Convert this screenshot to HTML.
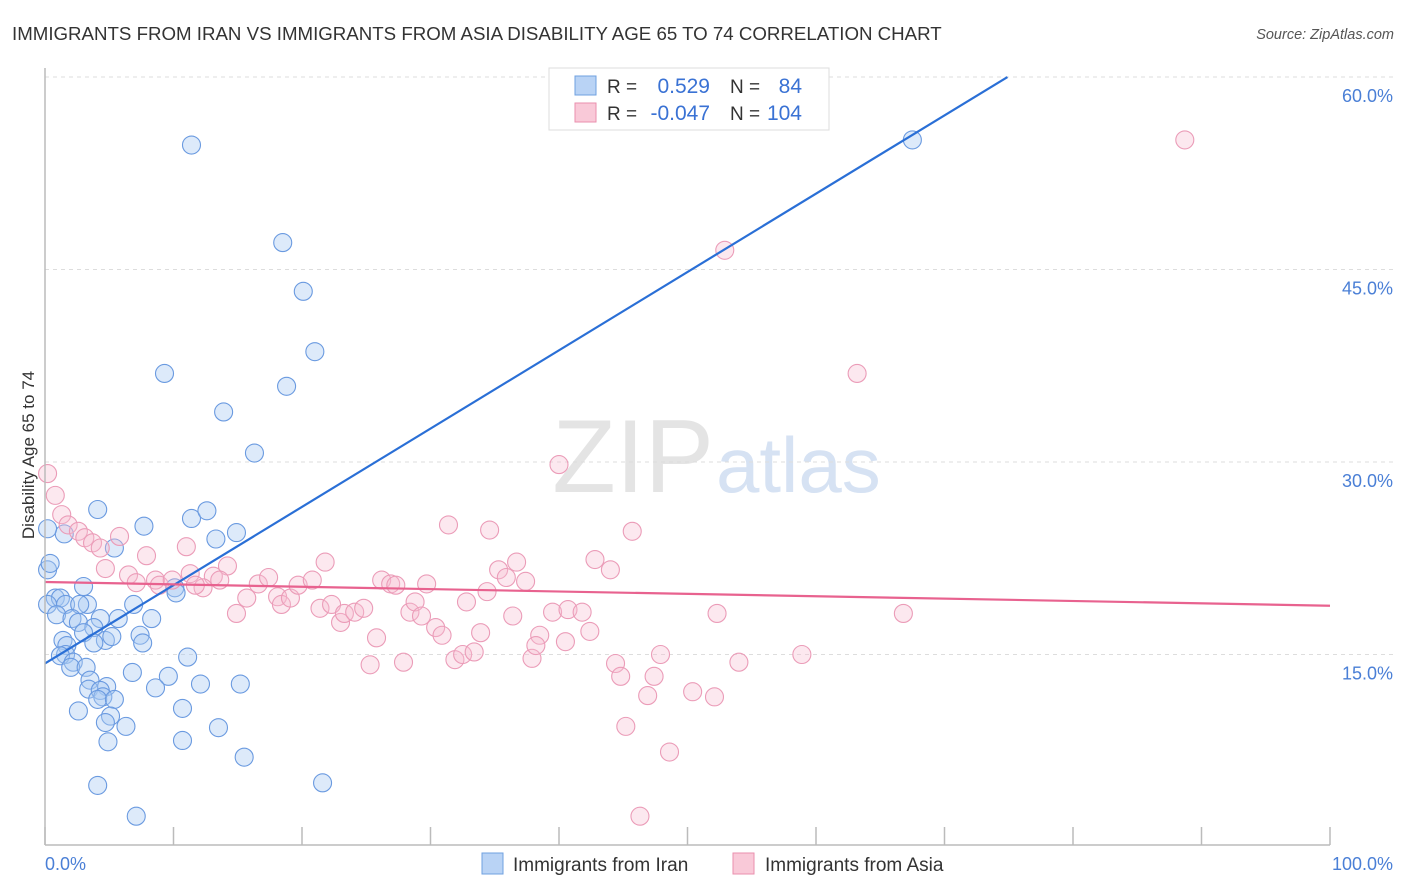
<!DOCTYPE html>
<html><head><meta charset="utf-8">
<style>
body{margin:0;background:#fff;font-family:"Liberation Sans",sans-serif;}
#wrap{position:relative;width:1406px;height:892px;overflow:hidden;}
svg text{font-family:"Liberation Sans",sans-serif;}
</style></head>
<body>
<div id="wrap">
<svg id="chart" width="1406" height="892">
<text x="12" y="40" font-size="18.7" fill="#333">IMMIGRANTS FROM IRAN VS IMMIGRANTS FROM ASIA DISABILITY AGE 65 TO 74 CORRELATION CHART</text>
<text x="1394" y="39" font-size="14.5" fill="#555" text-anchor="end" font-style="italic">Source: ZipAtlas.com</text>
<text x="34" y="455" font-size="17" fill="#333" text-anchor="middle" transform="rotate(-90 34 455)">Disability Age 65 to 74</text>
<text x="714" y="492" font-size="104" fill="#e4e4e4" text-anchor="end" font-family="Liberation Serif">ZIP</text>
<text x="716" y="492" font-size="78" fill="#d6e2f3">atlas</text>
<g id="grid"></g><g id="pts"></g><g id="lines"></g>
<line x1="45" y1="68" x2="45" y2="845" stroke="#bbb" stroke-width="1.5"/>
<line x1="45" y1="845" x2="1330" y2="845" stroke="#bbb" stroke-width="1.5"/>
<text x="45" y="870" font-size="18" fill="#4a7fd6">0.0%</text>
<text x="1393" y="870" font-size="18" fill="#4a7fd6" text-anchor="end">100.0%</text>
<g>
<rect x="549" y="68" width="280" height="62" fill="#fff" stroke="#ddd"/>
<rect x="575" y="76" width="21" height="19" fill="#b9d3f5" stroke="#6fa0e0"/>
<rect x="575" y="103" width="21" height="19" fill="#f9c9d8" stroke="#ea8fae"/>
<text x="607" y="93" font-size="19" fill="#333">R =</text><text x="710" y="93" font-size="21" fill="#3a72d4" text-anchor="end">0.529</text>
<text x="730" y="93" font-size="19" fill="#333">N =</text><text x="802" y="93" font-size="21" fill="#3a72d4" text-anchor="end">84</text>
<text x="607" y="120" font-size="19" fill="#333">R =</text><text x="710" y="120" font-size="21" fill="#3a72d4" text-anchor="end">-0.047</text>
<text x="730" y="120" font-size="19" fill="#333">N =</text><text x="802" y="120" font-size="21" fill="#3a72d4" text-anchor="end">104</text>
</g>
<g>
<rect x="482" y="853" width="21" height="21" fill="#b9d3f5" stroke="#6fa0e0"/>
<text x="513" y="871" font-size="19" fill="#333">Immigrants from Iran</text>
<rect x="733" y="853" width="21" height="21" fill="#f9c9d8" stroke="#ea8fae"/>
<text x="765" y="871" font-size="19" fill="#333">Immigrants from Asia</text>
</g>
</svg>
</div>
<script>
const yTicks=[15,30,45,60];
const yTickLabels=["15.0%","30.0%","45.0%","60.0%"];
const xTicks=[0,10,20,30,40,50,60,70,80,90,100];
const iranX=[11.4,18.5,20.1,21.0,9.3,18.8,13.9,16.3,67.5,4.1,7.7,11.4,12.6,14.9,13.3,5.4,1.5,0.2,0.2,0.4,3.0,10.1,10.2,0.8,1.2,0.2,1.6,3.3,2.7,6.9,0.9,2.1,4.3,2.6,5.7,8.3,3.8,3.0,4.7,5.2,7.4,7.6,1.4,1.7,3.8,1.6,1.2,2.2,2.0,3.2,11.1,6.8,9.6,3.5,4.8,3.4,4.3,12.1,15.2,8.6,4.5,4.1,5.4,2.6,10.7,5.1,4.7,6.3,13.5,4.9,10.7,15.5,4.1,21.6,7.1];
const iranY=[54.7,47.1,43.3,38.6,36.9,35.9,33.9,30.7,55.1,26.3,25.0,25.6,26.2,24.5,24.0,23.3,24.4,24.8,21.6,22.1,20.3,20.2,19.8,19.4,19.4,18.9,18.9,18.9,18.9,18.9,18.1,17.8,17.8,17.5,17.8,17.8,17.1,16.7,16.1,16.4,16.5,15.9,16.1,15.7,15.9,15.0,14.9,14.4,14.0,14.0,14.8,13.6,13.3,13.0,12.5,12.3,12.2,12.7,12.7,12.4,11.7,11.5,11.5,10.6,10.8,10.2,9.7,9.4,9.3,8.2,8.3,7.0,4.8,5.0,2.4];
const asiaX=[88.7,52.9,63.2,40.0,0.2,0.8,1.3,1.8,2.6,3.1,3.7,4.3,5.8,11.0,7.9,4.7,6.5,7.1,8.6,8.9,9.9,11.3,13.1,14.2,13.6,12.3,11.7,14.9,15.7,16.6,17.4,18.1,18.4,19.1,19.7,20.8,21.8,21.4,22.3,23.0,23.3,24.1,24.8,25.3,25.8,26.2,26.9,27.3,27.9,28.4,28.8,29.3,29.7,30.4,30.9,31.4,31.9,32.5,32.8,33.4,33.9,34.4,34.6,35.3,35.9,36.4,36.7,37.4,37.9,38.5,38.2,39.5,40.5,40.7,41.8,42.4,42.8,44.0,44.4,44.8,45.2,45.7,46.3,47.4,47.9,48.6,50.4,52.1,52.3,54.0,58.9,66.8,46.9];
const asiaY=[55.1,46.5,36.9,29.8,29.1,27.4,25.9,25.1,24.6,24.1,23.7,23.3,24.2,23.4,22.7,21.7,21.2,20.6,20.8,20.4,20.8,21.3,21.1,21.9,20.8,20.2,20.4,18.2,19.4,20.5,21.0,19.5,18.9,19.4,20.4,20.8,22.2,18.6,18.9,17.5,18.2,18.3,18.6,14.2,16.3,20.8,20.5,20.4,14.4,18.3,19.1,18.0,20.5,17.1,16.5,25.1,14.6,15.0,19.1,15.2,16.7,19.9,24.7,21.6,21.0,18.0,22.2,20.7,14.7,16.5,15.7,18.3,16.0,18.5,18.3,16.8,22.4,21.6,14.3,13.3,9.4,24.6,2.4,13.3,15.0,7.4,12.1,11.7,18.2,14.4,15.0,18.2,11.8];
const iranTrend=[14.3,60.0];const iranTrendX=[0,74.9];
const asiaTrend=[20.65,18.8];const asiaTrendX=[0,100];
const NS='http://www.w3.org/2000/svg';
function sx(v){return 45+v*12.85;}
function sy(v){return 847-v*12.833;}
function mk(t,a,p){const e=document.createElementNS(NS,t);for(const k in a)e.setAttribute(k,a[k]);p.appendChild(e);return e;}
const grid=document.getElementById('grid'),pts=document.getElementById('pts'),lines=document.getElementById('lines');
yTicks.forEach((v,i)=>{
 const l=mk('line',{x1:45,x2:1395,y1:sy(v),y2:sy(v),stroke:'#ddd','stroke-dasharray':'4,4'},grid);
 
 
 const t=mk('text',{x:1393,y:sy(v)+25,'font-size':18,fill:'#4a7fd6','text-anchor':'end'},grid);
 t.textContent=yTickLabels[i];
 
 
});
xTicks.forEach(v=>{
 const l=mk('line',{x1:sx(v),x2:sx(v),y1:827,y2:845,stroke:'#bbb','stroke-width':1.5},grid);
 
 
});
iranX.forEach((x,i)=>{
 const c=mk('circle',{cx:sx(x),cy:sy(iranY[i]),r:9,fill:'rgba(170,202,242,0.4)',stroke:'#6a9ae0','stroke-width':1.1},pts);
 
 
});
asiaX.forEach((x,i)=>{
 const c=mk('circle',{cx:sx(x),cy:sy(asiaY[i]),r:9,fill:'rgba(247,190,208,0.35)',stroke:'#eb9cb8','stroke-width':1.1},pts);
 
 
});
const l1=mk('line',{x1:sx(iranTrendX[0]),y1:sy(iranTrend[0]),x2:sx(iranTrendX[1]),y2:sy(iranTrend[1]),stroke:'#2a6fd6','stroke-width':2.2},lines);


const l2=mk('line',{x1:sx(asiaTrendX[0]),y1:sy(asiaTrend[0]),x2:sx(asiaTrendX[1]),y2:sy(asiaTrend[1]),stroke:'#e8628f','stroke-width':2.2},lines);


</script>
</body></html>
